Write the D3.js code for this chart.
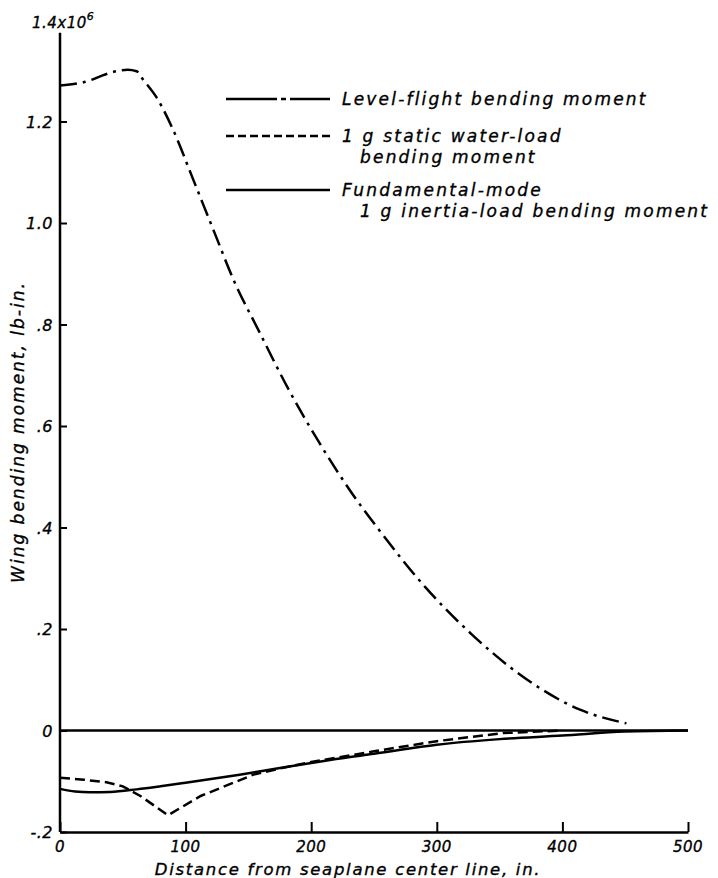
<!DOCTYPE html>
<html>
<head>
    <title></title>
    <script src='https://d3js.org/d3.v7.min.js'></script>
    <style>
      body {margin:0; background:white;}
      text {font-family: "DejaVu Sans", sans-serif; font-style: italic; fill: black; stroke: black; stroke-width: 0.35px;}
    </style>
</head>
<body onload='init()'>
<svg width=718 height=878>
</svg>
<script>
// distance from seaplane center line, in. / bending moment, 10^6 lb-in.
var levelX = [0, 24, 34, 54, 61, 66, 77, 90, 106, 123, 138, 159, 182, 205, 232, 255, 291, 328, 372, 414, 451];
var levelY = [1.271, 1.281, 1.291, 1.302, 1.299, 1.283, 1.247, 1.184, 1.086, 0.981, 0.889, 0.784, 0.672, 0.573, 0.469, 0.392, 0.282, 0.189, 0.100, 0.041, 0.014];

var waterX = [0, 19, 37, 50, 64, 86, 112, 154, 175, 200, 250, 300, 353, 400];
var waterY = [-0.093, -0.097, -0.102, -0.110, -0.129, -0.167, -0.129, -0.087, -0.075, -0.062, -0.041, -0.021, -0.005, 0];

var inertiaX = [0, 12, 24, 40, 61, 80, 100, 143, 175, 200, 223, 250, 300, 350, 400, 450, 500];
var inertiaY = [-0.115, -0.120, -0.1215, -0.121, -0.116, -0.110, -0.103, -0.087, -0.074, -0.064, -0.055, -0.046, -0.028, -0.017, -0.010, -0.002, 0];

var xTicks = [0, 100, 200, 300, 400, 500];
var yTicks = [-0.2, 0, 0.2, 0.4, 0.6, 0.8, 1.0, 1.2];
var yTickLabels = ["-.2", "0", ".2", ".4", ".6", ".8", "1.0", "1.2"];

var legendNames = [["Level-flight bending moment"],
                   ["1 g static water-load", "bending moment"],
                   ["Fundamental-mode", "1 g inertia-load bending moment"]];

function init() {
var svg = d3.select("svg");
var x = d3.scaleLinear().domain([0,500]).range([60,688]);
var y = d3.scaleLinear().domain([-0.2,1.4]).range([832,20]);

//y axis, ticks point into the plot
svg.append("g")
  .attr("transform","translate("+x(0)+",0)")
  .call(d3.axisRight(y).tickValues(yTicks).tickSize(7).tickSizeOuter(0).tickFormat(""))
  .call(function(g){ g.select(".domain").remove(); g.selectAll("line").attr("stroke-width",2); });
svg.append("line")
  .attr("x1",x(0)).attr("x2",x(0))
  .attr("y1",y(-0.2)).attr("y2",y(1.375))
  .attr("stroke","black").attr("stroke-width",2.5);
svg.selectAll(".ylab").data(yTicks).enter().append("text")
  .attr("x",x(0)-7)
  .attr("y",function(d){ return y(d)+6; })
  .style("text-anchor","end")
  .style("font-size","16px").style("letter-spacing","0.5px")
  .text(function(d,i){ return yTickLabels[i]; });
var top = svg.append("text").attr("x",32).attr("y",28).style("font-size","15px").style("letter-spacing","0.5px");
top.append("tspan").text("1.4x10");
top.append("tspan").attr("dy",-8).style("font-size","11px").text("6");

//x axis, ticks point up
svg.append("g")
  .attr("transform","translate(0,"+y(-0.2)+")")
  .call(d3.axisTop(x).tickValues(xTicks).tickSize(10).tickSizeOuter(0).tickFormat(""))
  .call(function(g){ g.select(".domain").attr("stroke-width",2.5); g.selectAll("line").attr("stroke-width",2); });
svg.selectAll(".xlab").data(xTicks).enter().append("text")
  .attr("x",function(d){ return x(d); })
  .attr("y",852)
  .style("text-anchor","middle")
  .style("font-size","15px").style("letter-spacing","0.5px")
  .text(function(d){ return d; });

//zero line
svg.append("line")
  .attr("x1",x(0)).attr("x2",x(500))
  .attr("y1",y(0)).attr("y2",y(0))
  .attr("stroke","black").attr("stroke-width",2.5);

// axis titles
svg.append("text")
  .attr("x",348).attr("y",875)
  .style("text-anchor","middle")
  .style("font-size","16.5px").style("letter-spacing","1.7px")
  .text("Distance from seaplane center line, in.");
svg.append("text")
  .attr("transform","translate(24,432) rotate(-90)")
  .style("text-anchor","middle")
  .style("font-size","17px").style("letter-spacing","2px")
  .text("Wing bending moment, lb-in.");

//curves
var line = d3.line().x(function(d){ return x(d[0]); }).y(function(d){ return y(d[1]); }).curve(d3.curveMonotoneX);
var waterLine = d3.line().x(function(d){ return x(d[0]); }).y(function(d){ return y(d[1]); }).curve(d3.curveLinear);
svg.append("path")
  .attr("d",line(d3.zip(inertiaX,inertiaY)))
  .attr("fill","none").attr("stroke","black").attr("stroke-width",2.5);
svg.append("path")
  .attr("d",waterLine(d3.zip(waterX,waterY)))
  .attr("fill","none").attr("stroke","black").attr("stroke-width",2.5)
  .attr("stroke-dasharray","10,5");
svg.append("path")
  .attr("d",line(d3.zip(levelX,levelY)))
  .attr("fill","none").attr("stroke","black").attr("stroke-width",2.5)
  .attr("stroke-dasharray","17,6,3,6");

//legend
var lg = [{y:99, dash:"51,4,5,4,60"}, {y:136, dash:"8,4"}, {y:190, dash:null}];
lg.forEach(function(l,i){
  svg.append("line")
    .attr("x1",226).attr("x2",330).attr("y1",l.y).attr("y2",l.y)
    .attr("stroke","black").attr("stroke-width",2.3)
    .attr("stroke-dasharray",l.dash);
  legendNames[i].forEach(function(t,j){
    svg.append("text")
      .attr("x", j==0 ? 342 : 360)
      .attr("y", l.y+6+j*21)
      .style("font-size","17px").style("letter-spacing","2.2px")
      .text(t);
  });
});
}
</script>
</body>
</html>
